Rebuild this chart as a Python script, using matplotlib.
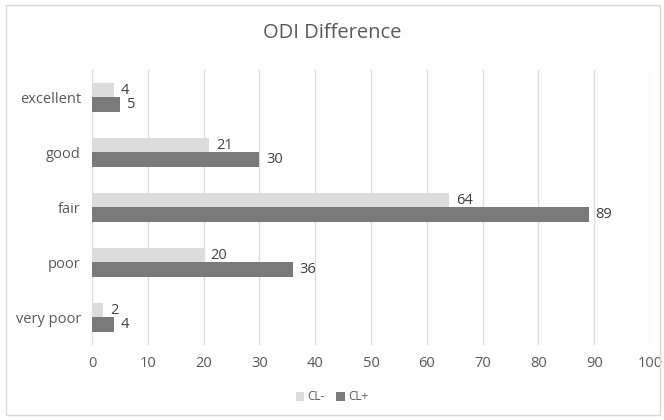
import matplotlib.pyplot as plt
import numpy as np
from matplotlib.patches import Rectangle

# categories, bottom to top
categorias = ['very poor', 'poor', 'fair', 'good', 'excellent']
cl_menos = [2, 20, 64, 21, 4]
cl_mas = [4, 36, 89, 30, 5]
ticks_x = [0, 10, 20, 30, 40, 50, 60, 70, 80, 90, 100]

plt.rcParams['font.family'] = ['Open Sans', 'DejaVu Sans']

fig = plt.figure(figsize=(6.64, 4.2), dpi=100)
fig.patches.append(Rectangle((6 / 664, 5 / 420), 654 / 664, 410 / 420,
                             transform=fig.transFigure, fill=False,
                             edgecolor='#d9d9d9', linewidth=1))
ax = fig.add_axes([92 / 664, 1 - 345 / 420, 558 / 664, 275 / 420])

y = np.arange(len(categorias))
h = 0.26
b1 = ax.barh(y + h / 2, cl_menos, height=h, color='#dcdcdc', label='CL-')
b2 = ax.barh(y - h / 2, cl_mas, height=h, color='#7a7a7a', label='CL+')

for barras in (b1, b2):
    for barra in barras:
        w = barra.get_width()
        ax.text(w + 1.2, barra.get_y() + barra.get_height() / 2, f'{w:g}',
                va='center', ha='left', fontsize=10.5, color='#404040')

ax.set_xlim(0, 100)
ax.set_ylim(-0.5, 4.5)
ax.set_xticks(ticks_x)
ax.set_yticks(y)
ax.set_yticklabels(categorias)
ax.tick_params(length=0, labelsize=10.5, colors='#595959', pad=8)
ax.grid(axis='x', color='#dedede', linewidth=1)
ax.set_axisbelow(True)
for s in ax.spines.values():
    s.set_visible(False)

fig.text(0.5, 1 - 33 / 420, 'ODI Difference', ha='center', va='center',
         fontsize=14.5, color='#595959')
fig.legend(handles=[b1, b2], loc='center', bbox_to_anchor=(0.5, 1 - 397 / 420),
           ncol=2, frameon=False, fontsize=8.5, handlelength=0.7,
           handleheight=0.7, columnspacing=1.0, handletextpad=0.3,
           labelcolor='#595959')

fig.savefig('out.png', dpi=100)
